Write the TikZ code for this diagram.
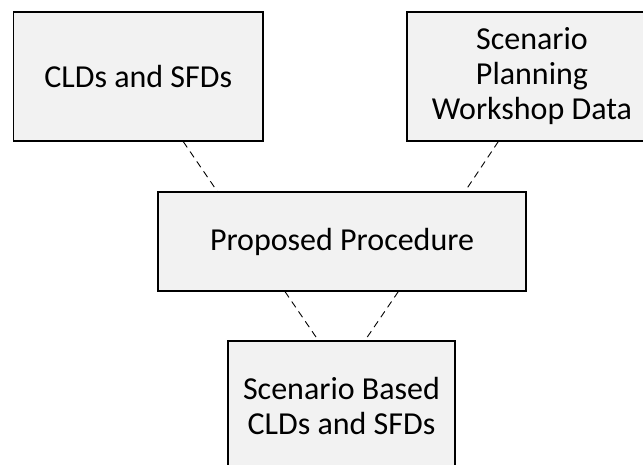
\documentclass[tikz,border=0pt]{standalone}
\usepackage{fontspec}
\setmainfont{Carlito}
\definecolor{boxfill}{HTML}{F2F2F2}
\begin{document}
\begin{tikzpicture}[x=1pt,y=-1pt,
  box/.style={draw=black, fill=boxfill, line width=1.2pt, inner sep=0pt,
    align=center, font=\fontsize{32}{35}\selectfont},
  link/.style={line width=0.9pt, dash pattern=on 7pt off 5pt}]
\clip (0,0) rectangle (643,465);
\fill[white] (0,0) rectangle (643,465);
\node[box, minimum width=249.5pt, minimum height=129pt] (A) at (138.25,76.5) {CLDs and SFDs};
\node[box, minimum width=250pt, minimum height=129pt] (B) at (532,76.5) {Scenario\\Planning\\Workshop Data};
\node[box, minimum width=368pt, minimum height=99pt] (C) at (342,241.5) {Proposed Procedure};
\node[box, minimum width=227pt, minimum height=130pt] (D) at (341.5,406) {Scenario Based\\CLDs and SFDs};
\draw[link] ([xshift=45pt]A.south) -- ([xshift=-124.7pt]C.north);
\draw[link] ([xshift=-33.7pt]B.south) -- ([xshift=123pt]C.north);
\draw[link] ([xshift=-57pt]C.south) -- ([xshift=-23.2pt]D.north);
\draw[link] ([xshift=56.3pt]C.south) -- ([xshift=23.5pt]D.north);
\end{tikzpicture}
\end{document}
